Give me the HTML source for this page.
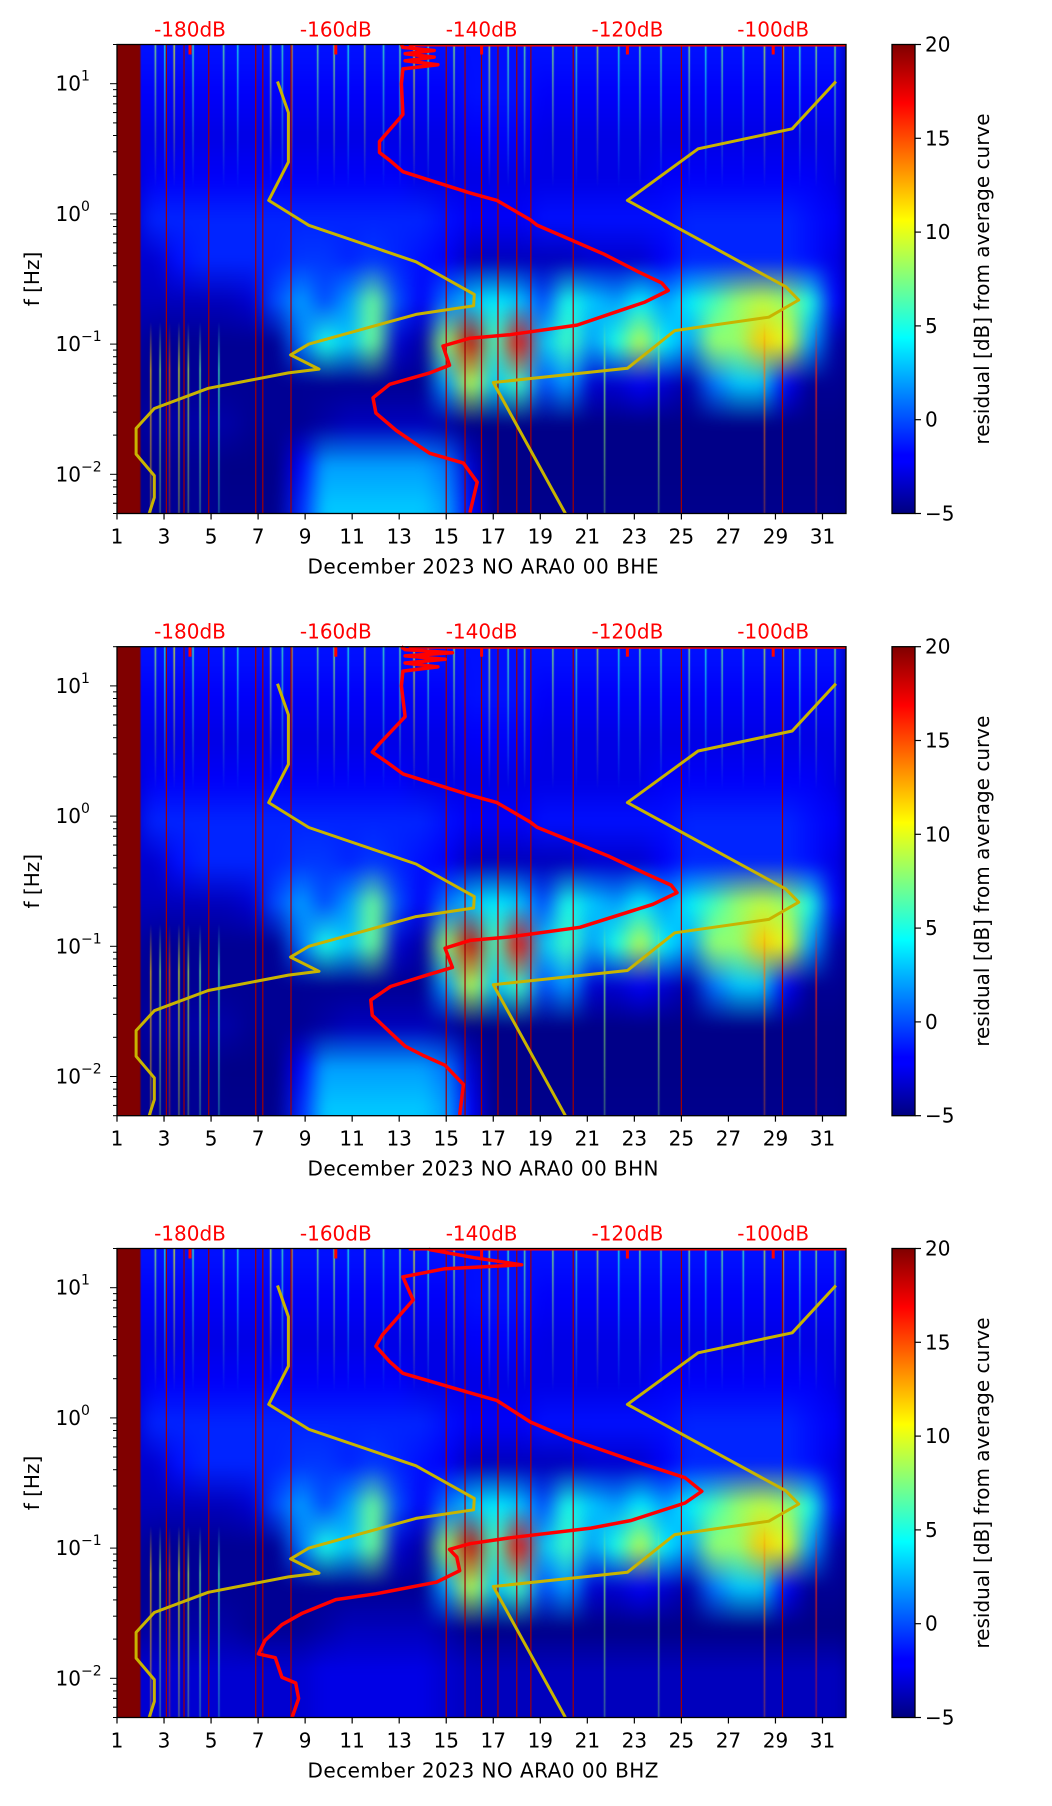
<!DOCTYPE html>
<html><head><meta charset="utf-8">
<style>
body{margin:0;background:#fff;width:1052px;height:1806px;overflow:hidden;position:relative;font-family:"DejaVu Sans","Liberation Sans",sans-serif;}
canvas{position:absolute;}
svg{position:absolute;left:0;top:0;}
</style></head>
<body>
<canvas id="c0"></canvas>
<canvas id="c1"></canvas>
<canvas id="c2"></canvas>
<svg id="svg" width="1052" height="1806"></svg>
<script>
// ---- data ----
const days = [1,2,3,4,5,6,7,8,9,10,11,12,13,14,15,16,17,18,19,20,21,22,23,24,25,26,27,28,29,30,31];
const xTicks = [1,3,5,7,9,11,13,15,17,19,21,23,25,27,29,31];
const dbTicks = [-180,-160,-140,-120,-100];
const cbTicks = [20,15,10,5,0,-5];
const rowFreqs = [14,7,3.5,1.8,0.9,0.45,0.22,0.11,0.056,0.028,0.014,0.007];
const titles = ["December 2023 NO ARA0 00 BHE","December 2023 NO ARA0 00 BHN","December 2023 NO ARA0 00 BHZ"];
const vlineDays = [3.1,3.85,4.9,6.9,7.2,8.4,15.0,15.8,16.5,17.2,18.0,18.6,20.4,25.0,29.3];
const streakDays = [2.6,3.0,3.4,4.2,5.5,6.1,7.5,8.0,8.4,9.5,10.2,10.8,11.5,12.3,13.0,13.6,14.2,15.3,16.8,17.6,18.3,19.5,20.5,21.4,22.3,23.2,24.1,25.3,26.0,26.7,27.6,28.5,29.3,30.0,30.7,31.5];
const streakVals = [8,5,10,6,7,5,9,6,12,7,8,5,9,6,7,10,6,8,9,6,7,8,6,9,5,7,6,8,5,7,6,9,11,6,8,7];
const lowStreakDays = [2.4,2.8,3.2,3.6,4.0,4.5,5.3,28.5,30.7,24.0,21.7];
const lowStreakVals = [12,8,15,10,9,7,6,14,16,8,8];
const row0 = [20,-1.5,-1.5,-1.5,-1.5,-1.5,-1.5,-1.5,-1.5,-1.5,-1.5,-1.5,-1.5,-1.5,-1.5,-1.5,-1.5,-1.5,-1.5,-1.5,-1.5,-1.5,-1.5,-1.5,-1.5,-1.5,-1.5,-1.5,-1.5,-1.5,-1.5];
const row1 = [20,-2,-2,-2,-2,-2,-2,-2,-2,-2,-2,-2,-2,-2,-2,-1.5,-1.5,-1.5,-2,-2,-2,-2,-2,-2,-2,-2,-2,-2,-2,-2,-2];
const row2 = [20,-2.5,-2.5,-2.5,-2.5,-2.5,-2.5,-2.5,-2.5,-2.5,-2.5,-2.5,-2.5,-2.5,-2.5,-2,-2,-2,-2.5,-2.5,-2.5,-2.5,-2.5,-2.5,-2.5,-2.5,-2.5,-2.5,-2.5,-2.5,-2.5];
const row3 = [20,-3,-2,-2,-2,-2,-2,-2,-2,-2,-2,-2,-2,-2.5,-2.5,-2.5,-2.5,-2.5,-2.5,-2.5,-2.5,-2.5,-2.5,-2,-2,-2,-2,-2,-2,-2,-2.5];
const row4 = [20,-3,-1,-1,-1,-1,-1,-1,-1,-1,-1,-1,-1,-1,-1.5,-2,-2,-2,-1.5,-1.5,-1.5,-1.5,-1.5,-1.5,-1,-1,-1,-1,-1,-1.5,-2];
const row5 = [20,-3,-3,-1.5,-1,-1,-1,-1,-0.5,-0.5,-1,-0.5,-1,-1.5,-2,-3.5,-3.5,-3.5,-3.5,-3.5,-3,-3,-3,-2,-1,-1,-1,-1,-1,-1.5,-2.5];
const row6 = [20,-3.5,-3.5,-3.5,-3.5,-3.5,-3,0,2,0,2,7,0,-2,1,3,4,3,0,5,3,2,4,2,4,6,8,9,8,5,-2];
const row7 = [20,-4,-4.5,-4.5,-4.5,-4.5,-4.5,-4.5,1,5,3,7,-3,-4,8,18,6,17,3,6,2,5,9,4,2,8,8,12,10,2,-4];
const row8 = [20,-4.5,-4.5,-4.5,-4.5,-4.5,-4.5,-4.5,-4.5,-4.5,-4.5,-4.5,-4.5,-4.5,2,9,3,6,0,2,-3,-3,-2,-3,-4,1,3,3,-2,-4.5,-4.5];
const row9 = [20,-4.5,-4,-4,-4,-4,-4.5,-4.5,-4.5,-4,-3.5,-3.5,-3.5,-3.5,-4,-4.8,-4.8,-4.8,-4.8,-4.8,-4.8,-4.8,-4.8,-4.8,-4.8,-4.8,-4.8,-4.8,-4.8,-4.8,-4.8];
const row10 = [20,-4.5,-4.5,-4.5,-4.5,-4.8,-4.8,-4.8,-2,2,2,2,2,2,1,-3,-4.8,-4.8,-4.8,-4.8,-4.8,-4.8,-4.8,-4.8,-4.8,-4.8,-4.8,-4.8,-4.8,-4.8,-4.8];
const row11 = [20,-4.5,-4.5,-4.5,-4.5,-4.7,-4.7,-4.7,-1,3,3,3,3,3,2,-2,-4.7,-4.7,-4.7,-4.7,-4.7,-4.7,-4.7,-4.7,-4.7,-4.7,-4.7,-4.7,-4.7,-4.7,-4.7];
const row10z = [20,-3,-3,-3,-3,-3,-3,-3,-3,-2.5,-2.5,-2.5,-2.5,-2.5,-3,-3.5,-3.5,-3.5,-3.5,-3.5,-3.5,-3.5,-3.5,-3.5,-3.5,-3.5,-3.5,-3.5,-3.5,-3.5,-3.5];
const row11z = [20,-3,-3,-3,-3,-3,-3,-3,-3,-2.5,-2.5,-2.5,-2.5,-2.5,-3,-3.5,-3.5,-3.5,-3.5,-3.5,-3.5,-3.5,-3.5,-3.5,-3.5,-3.5,-3.5,-3.5,-3.5,-3.5,-3.5];
const red1F = [20,19,18,17,16,15,14,13,10,5.8,3.6,2.96,2.58,2.11,1.45,1.27,0.90,0.82,0.49,0.362,0.295,0.258,0.21,0.140,0.118,0.111,0.0967,0.0689,0.0601,0.0491,0.0387,0.0295,0.0217,0.0171,0.0145,0.0122,0.0087,0.00507];
const red1D = [-151,-150.8,-146.5,-150.5,-146.5,-150.5,-146,-150.8,-151,-150.8,-154,-154,-152.6,-150.8,-141.6,-137.9,-133.3,-132.4,-123.2,-118.6,-115.3,-114.4,-117.6,-126.9,-136.1,-141.6,-145.3,-144.4,-147.1,-152.6,-154.9,-154.5,-151.7,-149,-147.1,-142.5,-140.6,-141.6];
const red2F = [20,19,18,17,16,15,14,13,10,5.8,3.6,3.1,2.6,2.11,1.45,1.27,0.90,0.82,0.49,0.362,0.295,0.258,0.21,0.140,0.118,0.111,0.0967,0.0689,0.0601,0.0491,0.0387,0.0295,0.0217,0.0171,0.0145,0.0122,0.0087,0.00507];
const red2D = [-151,-150.5,-144,-150.5,-145,-150.5,-146,-150.8,-151,-150.5,-154,-155,-153,-150.8,-141.6,-137.9,-133.3,-132.4,-122.5,-117.5,-114,-113.2,-116.5,-126.5,-136.1,-141.6,-145,-144,-147.5,-152.5,-155.2,-155,-152.5,-150.5,-148,-145,-142.5,-143];
const red3F = [20,19.6,17,15,14,12.1,8.05,4.35,3.55,2.7,2.2,1.56,1.36,0.93,0.687,0.456,0.347,0.273,0.222,0.163,0.1425,0.12,0.108,0.0977,0.0853,0.0671,0.0547,0.0446,0.0402,0.0316,0.0258,0.0196,0.0154,0.0144,0.0102,0.0092,0.0070,0.005];
const red3D = [-147,-147.1,-141,-134.5,-145,-150.8,-149.4,-153.6,-154.5,-152.6,-150.8,-141.6,-137.9,-133.3,-127.8,-118.6,-112.1,-109.8,-112.1,-119.5,-125,-136.1,-141.6,-144.4,-143.4,-143,-146.2,-154.5,-160,-164.6,-167.4,-169.7,-170.6,-168.3,-167.4,-165.5,-165.1,-166];
const lowF = [10.4,6.0,2.5,1.27,0.817,0.429,0.241,0.197,0.169,0.100,0.0826,0.0643,0.0601,0.0458,0.032,0.0225,0.0143,0.00977,0.00664,0.005];
const lowD = [-168,-166.5,-166.5,-169.2,-163.7,-149,-141,-141.1,-149,-163.7,-166.2,-162.3,-166.5,-177.5,-184.9,-187.4,-187.4,-184.9,-184.9,-185.6];
const highF = [10.4,4.5,3.16,1.27,0.276,0.218,0.161,0.127,0.0652,0.0507,0.005];
const highD = [-91.4,-97.4,-110.3,-120,-98.3,-96.5,-100.6,-113.5,-120,-138.4,-128.5];

// ---- layout ----
const tops = [44.5,646.7,1248.5];
const PL = 117, PW = 729, PH = 469;
const CBX = 892, CBW = 23;
const LOGMAX = Math.log10(20), LOGMIN = Math.log10(0.005);
function xDay(d){return PL + (d-1)/31*PW;}
function xDb(db){return 190 + (db+180)*7.29;}
function yF(f,t){return t + (LOGMAX-Math.log10(f))/(LOGMAX-LOGMIN)*PH;}
function jet(v){
  let t=(v+5)/25; t=Math.max(0,Math.min(1,t));
  const c=x=>Math.max(0,Math.min(1,x));
  return [c(1.5-Math.abs(4*t-3)),c(1.5-Math.abs(4*t-2)),c(1.5-Math.abs(4*t-1))].map(x=>Math.round(x*255));
}
function jetCss(v,a){const c=jet(v);return `rgba(${c[0]},${c[1]},${c[2]},${a})`;}
const NS='http://www.w3.org/2000/svg';
const svg=document.getElementById('svg');
function el(tag,attrs,parent){const e=document.createElementNS(NS,tag);for(const k in attrs)e.setAttribute(k,attrs[k]);(parent||svg).appendChild(e);return e;}

const defs=el('defs',{});
const lg=el('linearGradient',{id:'jetg',x1:0,y1:1,x2:0,y2:0},defs);
[[0,'#00007f'],[0.11,'#0000ff'],[0.125,'#0000ff'],[0.375,'#00ffff'],[0.625,'#ffff00'],[0.875,'#ff0000'],[1,'#800000']].forEach(s=>el('stop',{offset:s[0],'stop-color':s[1]},lg));

for(let p=0;p<3;p++){
  const top=tops[p];
  const rows=[row0,row1,row2,row3,row4,row5,row6,row7,row8,row9,p===2?row10z:row10,p===2?row11z:row11];
  const small=document.createElement('canvas');small.width=days.length;small.height=rowFreqs.length;
  const sc=small.getContext('2d');const img=sc.createImageData(days.length,rowFreqs.length);
  rows.forEach((r,ri)=>r.forEach((v,ci)=>{const k=(ri*days.length+ci)*4;const c=jet(v);img.data[k]=c[0];img.data[k+1]=c[1];img.data[k+2]=c[2];img.data[k+3]=255;}));
  sc.putImageData(img,0,0);
  const cv=document.getElementById('c'+p);cv.width=PW;cv.height=PH;cv.style.left=PL+'px';cv.style.top=top+'px';
  const ctx=cv.getContext('2d');ctx.imageSmoothingEnabled=true;
  ctx.fillStyle='#00007f';ctx.fillRect(0,0,PW,PH);
  ctx.filter='blur(6px)';
  const colW=PW/days.length;
  ctx.drawImage(small,-12-colW*0.5,-12,PW+24,PH+24);
  ctx.filter='none';
  const yEndBand=yF(1.6,0);
  streakDays.forEach((d,i)=>{
    const x=xDay(d)-PL;
    const gr=ctx.createLinearGradient(0,0,0,yEndBand);
    gr.addColorStop(0,jetCss(streakVals[i],0.8));gr.addColorStop(1,jetCss(streakVals[i],0));
    ctx.fillStyle=gr;ctx.fillRect(x,0,1.6,yEndBand);
  });
  const yLowA=yF(0.15,0), yLowB=PH;
  lowStreakDays.forEach((d,i)=>{
    const x=xDay(d)-PL;
    const gr=ctx.createLinearGradient(0,yLowA,0,yLowB);
    gr.addColorStop(0,jetCss(lowStreakVals[i],0));gr.addColorStop(0.25,jetCss(lowStreakVals[i],0.75));gr.addColorStop(1,jetCss(lowStreakVals[i],0.35));
    ctx.fillStyle=gr;ctx.fillRect(x,yLowA,1.6,yLowB-yLowA);
  });
  ctx.fillStyle='#800000';ctx.fillRect(0,0,xDay(2)-PL,PH);
  const g=el('g',{});
  
  
  vlineDays.forEach(d=>{
    const l=el('line',{x1:xDay(d),x2:xDay(d),y1:top,y2:top+PH,stroke:'#a00000','stroke-width':1.2},g);
    
    
  });
  const tl=el('line',{x1:xDb(-150),x2:PL+PW,y1:top+1,y2:top+1,stroke:'#ff0000','stroke-width':2},g);
  
  
  dbTicks.forEach(db=>{el('line',{x1:xDb(db),x2:xDb(db),y1:top,y2:top+10,stroke:'#ff0000','stroke-width':3},g);});
  [[lowF,lowD,'low-noise-model'],[highF,highD,'high-noise-model']].forEach(c=>{
    const pts=c[0].map((f,i)=>xDb(c[1][i]).toFixed(1)+','+yF(f,top).toFixed(1)).join(' ');
    const pl=el('polyline',{points:pts,fill:'none',stroke:'#c8b400','stroke-width':3,'stroke-linejoin':'round'},g);
    
    
  });
  const rf=[red1F,red2F,red3F][p], rd=[red1D,red2D,red3D][p];
  const rp=el('polyline',{points:rf.map((f,i)=>xDb(rd[i]).toFixed(1)+','+yF(f,top).toFixed(1)).join(' '),fill:'none',stroke:'#ff0000','stroke-width':3.5,'stroke-linejoin':'round'},g);
  
  
  el('rect',{x:PL,y:top,width:PW,height:PH,fill:'none',stroke:'#000','stroke-width':1.3},g);
  xTicks.forEach(d=>{
    el('line',{x1:xDay(d),x2:xDay(d),y1:top+PH,y2:top+PH+6,stroke:'#000','stroke-width':1.2},g);
    const t=el('text',{x:xDay(d),y:top+PH+30,'font-size':20,'text-anchor':'middle',fill:'#000'},g);t.textContent=d;
    
    
  });
  const xt=el('text',{x:483,y:top+PH+60,'font-size':20,'text-anchor':'middle',fill:'#000',textLength:351},g);
  xt.textContent=titles[p];
  
  
  dbTicks.forEach(db=>{
    const t=el('text',{x:xDb(db),y:top-8,'font-size':20,'text-anchor':'middle',fill:'#ff0000'},g);t.textContent=db+'dB';
    
    
  });
  for(let e=-3;e<=1;e++){for(let m=1;m<=9;m++){const f=m*Math.pow(10,e);if(f<0.005||f>20)continue;const y=yF(f,top);
    el('line',{x1:PL-(m===1?7:4),x2:PL,y1:y,y2:y,stroke:'#000','stroke-width':1},g);
    if(m===1){const t=el('text',{x:PL-36,y:y+7,'font-size':20,'text-anchor':'end',fill:'#000'},g);t.textContent='10';
      
      
      const s=el('text',{x:PL-36,y:y-3,'font-size':14,'text-anchor':'start',fill:'#000'},g);s.textContent=(e<0?'\u2212':'')+Math.abs(e);}
  }}
  const yt=el('text',{x:0,y:0,'font-size':20,'text-anchor':'middle',fill:'#000',transform:`translate(39,${top+PH/2}) rotate(-90)`},g);yt.textContent='f [Hz]';
  
  
  const cb=el('rect',{x:CBX,y:top,width:CBW,height:PH,fill:'url(#jetg)',stroke:'#000','stroke-width':1.3},g);
  
  
  cbTicks.forEach(v=>{const y=top+(20-v)/25*PH;
    el('line',{x1:CBX+CBW,x2:CBX+CBW+6,y1:y,y2:y,stroke:'#000','stroke-width':1.2},g);
    const t=el('text',{x:CBX+CBW+10,y:y+7,'font-size':20,fill:'#000'},g);t.textContent=v<0?'\u2212'+(-v):v;
    
    
  });
  const cl=el('text',{x:0,y:0,'font-size':20,'text-anchor':'middle',fill:'#000',transform:`translate(989,${top+PH/2}) rotate(-90)`},g);cl.textContent='residual [dB] from average curve';
  
  
}
</script>
</body></html>
